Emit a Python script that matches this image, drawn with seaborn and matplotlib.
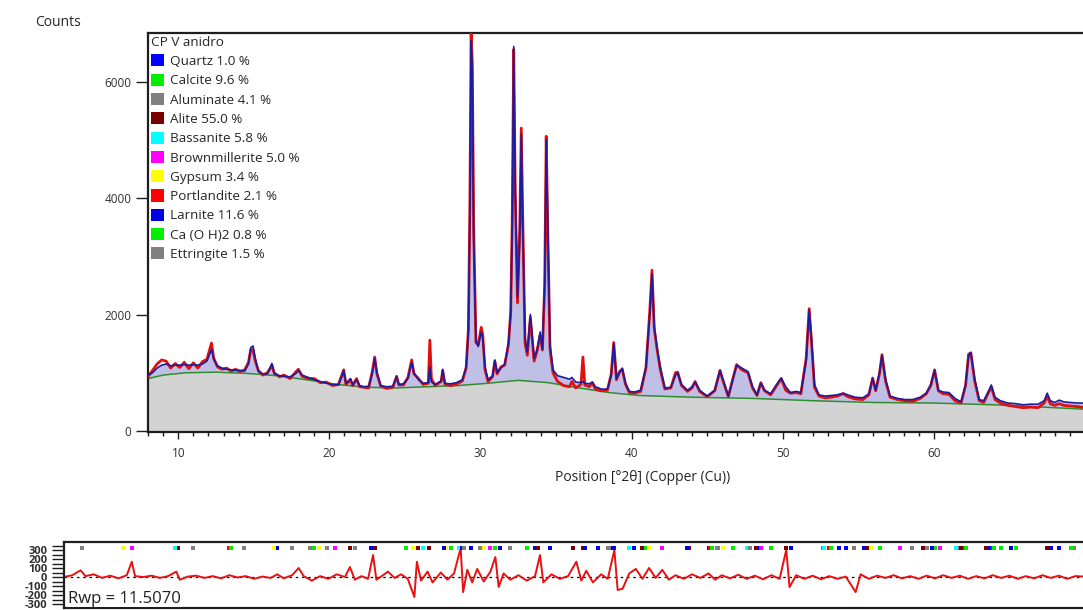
import matplotlib
matplotlib.use("Agg")
import matplotlib.pyplot as plt
from matplotlib.patches import Patch
from matplotlib.ticker import MultipleLocator
import seaborn as sns

# ---- Rietveld refinement: observed / calculated profile (counts vs 2-theta) ----
two_theta = [8.0, 8.3, 8.6, 8.9, 9.2, 9.5, 9.8, 10.1, 10.4, 10.7, 11.0, 11.3, 11.6, 11.9,
             12.1, 12.2, 12.35, 12.6, 12.9, 13.2, 13.5, 13.8, 14.1, 14.4, 14.65, 14.8, 14.95,
             15.1, 15.3, 15.6, 15.9, 16.1, 16.2, 16.35, 16.7, 17.0, 17.4, 17.8, 17.95, 18.2,
             18.6, 19.0, 19.4, 19.8, 20.2, 20.6, 20.85, 20.95, 21.1, 21.4, 21.55, 21.8, 22.0,
             22.3, 22.6, 22.85, 23.0, 23.15, 23.4, 23.8, 24.2, 24.45, 24.6, 24.9, 25.2, 25.45,
             25.6, 25.9, 26.2, 26.55, 26.65, 26.75, 27.0, 27.4, 27.5, 27.65, 28.0, 28.4, 28.8,
             29.05, 29.2, 29.3, 29.38, 29.46, 29.55, 29.7, 29.85, 30.05, 30.15, 30.3, 30.5,
             30.8, 30.95, 31.1, 31.35, 31.6, 31.85, 32.0, 32.1, 32.2, 32.3, 32.45, 32.6, 32.7,
             32.8, 32.95, 33.1, 33.3, 33.4, 33.55, 33.75, 33.95, 34.1, 34.25, 34.35, 34.45,
             34.6, 34.8, 35.1, 35.5, 35.9, 36.05, 36.3, 36.65, 36.78, 36.9, 37.2, 37.4, 37.6,
             38.0, 38.4, 38.65, 38.82, 39.0, 39.2, 39.38, 39.6, 39.85, 40.2, 40.6, 40.95, 41.2,
             41.35, 41.5, 41.7, 41.9, 42.2, 42.6, 42.9, 43.05, 43.3, 43.7, 44.0, 44.2, 44.5,
             45.0, 45.5, 45.85, 46.05, 46.4, 46.7, 46.95, 47.3, 47.7, 48.0, 48.3, 48.55, 48.8,
             49.2, 49.6, 49.9, 50.2, 50.5, 50.9, 51.2, 51.55, 51.75, 51.9, 52.1, 52.4, 52.8,
             53.2, 53.6, 54.0, 54.3, 54.8, 55.3, 55.7, 55.95, 56.15, 56.4, 56.57, 56.8, 57.1,
             57.6, 58.1, 58.6, 59.1, 59.5, 59.8, 60.05, 60.3, 60.6, 61.0, 61.4, 61.8, 62.1,
             62.3, 62.45, 62.7, 63.0, 63.3, 63.65, 63.8, 64.05, 64.4, 64.9, 65.4, 65.9, 66.4,
             66.9, 67.3, 67.5, 67.7, 68.0, 68.3, 68.6, 69.0, 69.5, 70.3]

calc_counts = [960, 1000, 1080, 1130, 1150, 1120, 1130, 1130, 1140, 1130, 1140, 1130, 1150, 1200,
               1330, 1400, 1230, 1120, 1080, 1060, 1050, 1040, 1040, 1030, 1150, 1430, 1460,
               1250, 1020, 980, 980, 1100, 1160, 980, 950, 940, 930, 990, 1040, 960,
               920, 880, 850, 820, 800, 790, 950, 1040, 820, 900, 790, 880, 780,
               760, 770, 1000, 1250, 1000, 780, 760, 770, 930, 800, 810, 900, 1180,
               1000, 880, 820, 830, 1100, 840, 800, 860, 1060, 820, 810, 830, 880,
               1100, 1700, 3800, 6700, 6200, 3300, 1550, 1450, 1700, 1600, 1100, 880,
               950, 1220, 1000, 1080, 1150, 1500, 2000, 3500, 6600, 4200, 2300, 3300, 5100,
               3500, 1600, 1350, 2000, 1700, 1250, 1400, 1700, 1400, 2600, 5000, 3600,
               1500, 1050, 950, 920, 890, 920, 840, 830, 850, 820, 810, 840, 760,
               720, 720, 950, 1500, 900, 1000, 1080, 820, 680, 670, 700, 1100, 2000,
               2700, 1800, 1400, 1100, 740, 750, 950, 1000, 800, 700, 760, 840, 700,
               600, 700, 1040, 880, 600, 880, 1130, 1080, 1020, 760, 620, 820, 700,
               640, 800, 910, 760, 660, 680, 660, 1200, 2080, 1600, 800, 620, 600,
               610, 620, 650, 620, 580, 570, 640, 900, 700, 1000, 1300, 900, 600,
               560, 540, 540, 580, 650, 800, 1040, 700, 670, 660, 560, 500, 800,
               1300, 1350, 900, 540, 520, 700, 790, 580, 520, 480, 470, 450, 460,
               460, 520, 650, 520, 490, 530, 500, 490, 480, 480]

obs_counts = [930, 1040, 1150, 1220, 1200, 1080, 1160, 1090, 1180, 1070, 1170, 1080, 1190, 1230,
              1420, 1510, 1250, 1100, 1060, 1080, 1030, 1060, 1020, 1050, 1180, 1400, 1380,
              1200, 1040, 960, 1000, 1080, 1130, 1000, 930, 960, 900, 1020, 1060, 940,
              900, 900, 830, 840, 780, 800, 980, 1050, 800, 880, 780, 900, 760,
              750, 740, 1030, 1270, 980, 770, 730, 750, 940, 790, 790, 920, 1220,
              980, 900, 800, 820, 1560, 900, 780, 850, 1040, 800, 780, 800, 860,
              1080, 1750, 3900, 6850, 6300, 3500, 1520, 1480, 1780, 1650, 1050, 850,
              930, 1200, 980, 1100, 1130, 1480, 2050, 3600, 6550, 4100, 2200, 3500, 5200,
              3600, 1500, 1300, 1950, 1650, 1200, 1380, 1650, 1390, 2500, 5060, 3500,
              1400, 1000, 850, 780, 760, 850, 740, 800, 1270, 790, 760, 830, 720,
              690, 700, 980, 1520, 880, 1020, 1060, 800, 660, 650, 680, 1080, 2050,
              2760, 1750, 1380, 1050, 720, 740, 1000, 1010, 780, 680, 740, 850, 680,
              590, 690, 1040, 860, 590, 900, 1140, 1050, 1000, 740, 610, 830, 690,
              620, 780, 900, 700, 650, 660, 640, 1250, 2100, 1550, 750, 600, 570,
              580, 600, 640, 590, 550, 540, 620, 910, 690, 980, 1310, 860, 580,
              540, 520, 510, 560, 640, 780, 1050, 690, 640, 630, 520, 480, 780,
              1320, 1340, 860, 520, 490, 680, 760, 540, 480, 440, 420, 400, 410,
              400, 480, 600, 470, 440, 470, 440, 430, 420, 390]

bg_theta = [8.0, 9.0, 10.5, 12.5, 14.5, 16.5, 18.5, 20.5, 22.5, 24.5, 26.5, 28.5, 30.5,
            32.5, 34.5, 36.5, 38.5, 40.5, 44.0, 48.0, 52.0, 56.0, 60.0, 64.0, 68.0, 70.3]
bg_counts = [900, 960, 1000, 1010, 990, 950, 880, 800, 750, 740, 760, 780, 820,
             870, 830, 740, 660, 610, 580, 560, 520, 490, 480, 450, 400, 370]

# ---- difference curve (observed - calculated) ----
diff_theta = [8.0, 8.5, 9.0, 9.3, 9.8, 10.3, 10.8, 11.3, 11.8, 12.1, 12.3, 12.8, 13.3, 13.8,
              14.3, 14.8, 15.0, 15.5, 16.0, 16.5, 17.0, 17.5, 18.0, 18.5, 19.0, 19.5, 20.0,
              20.5, 20.9, 21.3, 21.8, 22.2, 22.5, 23.0, 23.5, 24.0, 24.5, 25.0, 25.3, 25.6,
              26.0, 26.4, 26.7, 26.9, 27.3, 27.6, 28.0, 28.4, 28.8, 29.2, 29.35, 29.6, 30.0,
              30.3, 30.8, 31.2, 31.6, 32.0, 32.15, 32.4, 32.7, 33.0, 33.4, 33.8, 34.1, 34.3,
              34.6, 35.0, 35.5, 36.0, 36.5, 36.8, 37.0, 37.5, 38.0, 38.5, 39.0, 39.3, 39.6,
              40.0, 40.5, 40.9, 41.3, 41.5, 41.8, 42.2, 42.6, 43.0, 43.4, 43.8, 44.2, 44.6,
              45.0, 45.5, 46.0, 46.5, 47.0, 47.4, 47.8, 48.3, 48.8, 49.3, 49.8, 50.3, 50.8,
              51.3, 51.7, 51.9, 52.3, 52.8, 53.3, 53.8, 54.3, 54.8, 55.3, 55.9, 56.2, 56.7,
              57.2, 57.7, 58.2, 58.7, 59.2, 59.7, 60.2, 60.7, 61.2, 61.7, 62.2, 62.7, 63.2,
              63.7, 64.2, 64.7, 65.2, 65.7, 66.2, 66.7, 67.2, 67.7, 68.2, 68.7, 69.2, 70.3]
diff_counts = [0, 20, 75, 10, 30, -10, 15, -15, 20, 170, 10, 0, 15, -10,
               10, 60, -30, 5, 15, -10, 10, -15, 20, -5, 10, -20, 5,
               -10, 30, -15, 20, 100, 10, -40, 10, -20, 30, 0, 111, -30,
               10, -20, 244, -30, 20, 60, -10, 30, -20, -222, 170, -40, 60,
               -60, 50, -30, 40, 322, -167, 80, -60, 90, -50, 60, 222, -111,
               40, -30, 20, -40, 10, 244, -60, 30, -20, 10, 170, -40, 70,
               -60, 30, -20, 300, -144, -130, 40, 90, -20, 100, -10, 80, -30,
               20, -20, 30, -10, 40, -30, 20, -15, 25, -20, 15, -25, 20,
               -20, 300, -111, 20, -20, 15, -25, 10, -20, 5, -167, 30, -20,
               15, -10, 20, -15, 10, -20, 15, -15, 20, -10, 15, -20, 10,
               -15, 20, -10, 15, -20, 10, -15, 20, -10, 15, -20, 10, 0]

# ---- phases: legend labels, colours and reflection positions ----
phase_labels = ["Quartz 1.0 %", "Calcite 9.6 %", "Aluminate 4.1 %", "Alite 55.0 %",
                "Bassanite 5.8 %", "Brownmillerite 5.0 %", "Gypsum 3.4 %",
                "Portlandite 2.1 %", "Larnite 11.6 %", "Ca (O H)2 0.8 %", "Ettringite 1.5 %"]
phase_colors = ["#0000ff", "#00ee00", "#808080", "#7a0000", "#00ffff", "#ff00ff",
                "#ffff00", "#ff0000", "#0000e0", "#00ee00", "#808080"]

quartz_refl = [20.9, 26.6, 36.5, 39.5, 40.3, 42.5, 45.8, 50.1, 54.9, 55.3, 60.0, 64.0, 67.7, 68.2]
calcite_refl = [23.1, 29.4, 31.4, 36.0, 39.4, 43.2, 47.1, 47.5, 48.5, 56.6, 57.4, 60.7, 61.0, 64.7, 65.6]
aluminate_refl = [21.8, 23.9, 33.2, 40.9, 47.6, 53.9, 59.3, 62.2, 69.1]
alite_refl = [14.9, 22.9, 25.3, 26.8, 29.4, 30.1, 32.2, 32.6, 34.4, 36.7, 38.8, 39.4, 41.3,
              43.0, 45.8, 47.0, 49.9, 51.7, 56.6, 60.0, 62.3, 63.8, 67.5]
bassanite_refl = [14.7, 25.6, 29.7, 31.9, 42.2, 49.3, 54.0, 62.0]
brownmillerite_refl = [12.1, 24.4, 33.8, 44.2, 47.2, 50.2, 58.6, 61.0]
gypsum_refl = [11.6, 20.7, 23.4, 29.1, 31.1, 33.4, 43.4, 47.9, 56.8]
portlandite_refl = [18.0, 28.7, 34.1, 47.1, 50.8, 54.3, 62.5, 64.2]
larnite_refl = [31.0, 32.1, 32.6, 34.4, 37.4, 39.5, 41.2, 45.7, 52.0, 56.4, 60.5, 65.3]
caoh2_refl = [18.1, 28.7, 34.1, 47.2, 50.8, 54.4, 62.6, 64.3, 68.9]
ettringite_refl = [9.1, 15.8, 18.9, 22.9, 25.6, 32.2, 35.0, 41.0, 49.5, 55.8, 60.2]
phase_reflections = [quartz_refl, calcite_refl, aluminate_refl, alite_refl, bassanite_refl,
                     brownmillerite_refl, gypsum_refl, portlandite_refl, larnite_refl,
                     caoh2_refl, ettringite_refl]

x_ticks = [10, 20, 30, 40, 50, 60]
y_ticks = [0, 2000, 4000, 6000]
diff_ticks = [-300, -200, -100, 0, 100, 200, 300]

# ---- styling ----
sns.set_theme(style="white")
plt.rcParams["font.family"] = ["Open Sans", "DejaVu Sans"]
plt.rcParams["axes.edgecolor"] = "#1e1e1e"
plt.rcParams["text.color"] = "#262626"
plt.rcParams["xtick.color"] = "#1e1e1e"
plt.rcParams["ytick.color"] = "#1e1e1e"
plt.rcParams["xtick.labelcolor"] = "#303030"
plt.rcParams["ytick.labelcolor"] = "#303030"

W, H = 1083, 610
fig = plt.figure(figsize=(W / 100, H / 100), dpi=100)

# main pattern axes
ax = fig.add_axes([148 / W, 1 - 432 / H, (1088 - 148) / W, (432 - 33) / H])
ax.fill_between(two_theta, 0, calc_counts, color="#c0c0e6", lw=0, zorder=0.5)
ax.fill_between(bg_theta, 0, bg_counts, color="#d3d3d3", lw=0, zorder=1)
sns.lineplot(x=bg_theta, y=bg_counts, ax=ax, color="#2f8f2f", linewidth=1.1,
             estimator=None, sort=False, zorder=2)
sns.lineplot(x=two_theta, y=obs_counts, ax=ax, color="#e01010", linewidth=2.0,
             estimator=None, sort=False, zorder=3)
sns.lineplot(x=two_theta, y=calc_counts, ax=ax, color="#1c1ca0", linewidth=1.2,
             estimator=None, sort=False, zorder=4)

ax.set_xlim(8.0, 70.2)
ax.set_ylim(-17, 6833)
ax.set_xticks(x_ticks)
ax.set_xticklabels([str(t) for t in x_ticks], fontsize=8.5)
ax.xaxis.set_minor_locator(MultipleLocator(1))
ax.set_yticks(y_ticks)
ax.set_yticklabels([str(t) for t in y_ticks], fontsize=8.5)
ax.tick_params(axis="x", which="major", direction="out", length=5, width=1, pad=6, bottom=True)
ax.tick_params(axis="x", which="minor", direction="out", length=3, width=1, bottom=True)
ax.tick_params(axis="y", which="major", direction="out", length=9, width=1, pad=3, left=True)
for s in ax.spines.values():
    s.set_linewidth(1.6)
ax.set_xlabel("Position [°2θ] (Copper (Cu))", fontsize=10, color="#262626")
ax.xaxis.set_label_coords((643 - 148) / (1088 - 148), -0.095)
ax.set_ylabel("")
fig.text(58 / W, 1 - 22 / H, "Counts", fontsize=10, ha="center", va="center", color="#262626")

handles = [Patch(facecolor=c, edgecolor="none", label=l) for l, c in zip(phase_labels, phase_colors)]
leg = ax.legend(handles=handles, title="CP V anidro", loc="upper left", bbox_to_anchor=(0.0, 1.0),
                frameon=False, fontsize=9.7, title_fontsize=9.7, handlelength=1.0,
                handleheight=1.0, labelspacing=0.42, handletextpad=0.4, borderpad=0.2,
                borderaxespad=0.0)
leg._legend_box.align = "left"
leg.set_zorder(10)

# difference axes
axd = fig.add_axes([64 / W, 1 - 608 / H, (1092 - 64) / W, (608 - 542) / H])
axd.axhline(0, color="black", lw=0.9, ls=(0, (2, 3)), zorder=1)
sns.lineplot(x=diff_theta, y=diff_counts, ax=axd, color="#e81010", linewidth=1.4,
             estimator=None, sort=False, zorder=2)
for refl, col in zip(phase_reflections, phase_colors):
    axd.scatter(refl, [322] * len(refl), marker="s", s=5, color=col, linewidths=0, zorder=3)
axd.set_xlim(8.0, 70.2)
axd.set_ylim(-344, 389)
axd.set_xticks([])
axd.set_yticks(diff_ticks)
axd.set_yticklabels([str(t) for t in diff_ticks], fontsize=8, fontweight="bold")
axd.yaxis.set_minor_locator(MultipleLocator(50))
axd.tick_params(axis="y", which="major", direction="out", length=9, width=1, pad=3, left=True)
axd.tick_params(axis="y", which="minor", direction="out", length=9, width=1, left=True)
for s in axd.spines.values():
    s.set_linewidth(1.6)
axd.text(0.004, 0.14, "Rwp = 11.5070", transform=axd.transAxes, fontsize=12,
         ha="left", va="center", color="#202020",
         bbox=dict(facecolor="white", edgecolor="none", pad=0.5), zorder=5)

fig.savefig("out.png", dpi=100)
